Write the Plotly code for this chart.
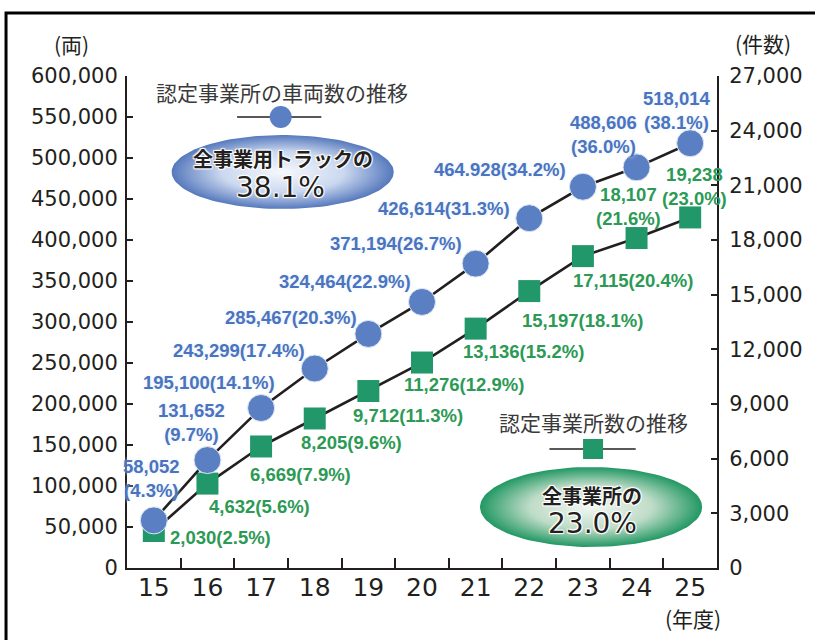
import numpy as np
import plotly.graph_objects as go

# ---------------- data ----------------
years = ["15", "16", "17", "18", "19", "20", "21", "22", "23", "24", "25"]
vehicles = [58052, 131652, 195100, 243299, 285467, 324464, 371194, 426614, 464928, 488606, 518014]
offices = [2030, 4632, 6669, 8205, 9712, 11276, 13136, 15197, 17115, 18107, 19238]
vehicle_labels = ["58,052<br>(4.3%)", "131,652<br>(9.7%)", "195,100(14.1%)", "243,299(17.4%)",
                  "285,467(20.3%)", "324,464(22.9%)", "371,194(26.7%)", "426,614(31.3%)",
                  "464.928(34.2%)", "488,606<br>(36.0%)", "518,014<br>(38.1%)"]
office_labels = ["2,030(2.5%)", "4,632(5.6%)", "6,669(7.9%)", "8,205(9.6%)", "9,712(11.3%)",
                 "11,276(12.9%)", "13,136(15.2%)", "15,197(18.1%)", "17,115(20.4%)",
                 "18,107<br>(21.6%)", "19,238<br>(23.0%)"]
left_max, left_step = 600000, 50000
right_max, right_step = 27000, 3000

# ---------------- style ----------------
INK = "#231f20"
BLUE = "#5a7fc3"
BLUE_TXT = "#4a74bf"
GREEN = "#22986a"
GREEN_TXT = "#2c9a55"
NUM_FONT = "DejaVu Sans"
LBL_FONT = "Liberation Sans"
JP_FONT = "Noto Sans CJK JP"

# label pixel offsets from their point (dx right, dy up)
veh_off = [(-2, 42), (-16, 38), (-52, 26), (-76, 18), (-77, 16), (-77, 20),
           (-80, 20), (-85, 10), (-83, 17), (-33, 33), (-13, 33)]
off_off = [(67, -6), (52, -23), (39, -28), (37, -24), (40, -24), (42, -22),
           (48, -23), (53, -29), (50, -24), (-8, 32), (4, 31)]

L, R, T, B = 127, 93, 76, 72
W, H = 815, 640

fig = go.Figure()

# decoration overlay axes in pixel units
def ellipse(cx, cy, a, b, scale):
    t = np.linspace(0, 2 * np.pi, 120)
    fig.add_trace(go.Scatter(
        x=cx + a * np.cos(t), y=cy + b * np.sin(t), mode="lines", fill="toself",
        line=dict(width=0), fillgradient=dict(type="radial", colorscale=scale),
        xaxis="x3", yaxis="y3", hoverinfo="skip"))

ellipse(284, 172, 112, 37, [[0, "#f6f8fc"], [0.55, "#cbd8ef"], [1, "#5679bd"]])
ellipse(595, 507, 112, 40, [[0, "#f2f7f1"], [0.55, "#bfdcc8"], [1, "#229863"]])

# legend symbols
fig.add_trace(go.Scatter(x=[238, 323], y=[117, 117], mode="lines", line=dict(color=INK, width=1.5),
                         xaxis="x3", yaxis="y3", hoverinfo="skip"))
fig.add_trace(go.Scatter(x=[282], y=[117], mode="markers",
                         marker=dict(symbol="circle", size=22, color=BLUE, line=dict(width=0)),
                         xaxis="x3", yaxis="y3", hoverinfo="skip"))
fig.add_trace(go.Scatter(x=[553, 640], y=[449, 449], mode="lines", line=dict(color=INK, width=1.5),
                         xaxis="x3", yaxis="y3", hoverinfo="skip"))
fig.add_trace(go.Scatter(x=[597], y=[449], mode="markers",
                         marker=dict(symbol="square", size=20, color=GREEN, line=dict(width=0)),
                         xaxis="x3", yaxis="y3", hoverinfo="skip"))

# offices (right axis, primary y)
fig.add_trace(go.Scatter(x=years, y=offices, mode="lines+markers",
                         line=dict(color=INK, width=2.6),
                         marker=dict(symbol="square", size=22, color=GREEN, line=dict(width=0)),
                         yaxis="y", xaxis="x"))
# vehicles (left axis, y2 overlay so it sits on top)
fig.add_trace(go.Scatter(x=years, y=vehicles, mode="lines+markers",
                         line=dict(color=INK, width=2.6),
                         marker=dict(symbol="circle", size=27, color=BLUE, line=dict(width=1, color="#dfe8f5")),
                         yaxis="y2", xaxis="x"))

ann = []
for i, v in enumerate(vehicles):
    dx, dy = veh_off[i]
    ann.append(dict(x=i, y=v, xref="x", yref="y2", text=vehicle_labels[i], showarrow=False,
                    xshift=dx, yshift=dy, align="center", xanchor="center", yanchor="middle",
                    font=dict(family=LBL_FONT, size=18.5, color=BLUE_TXT, weight="bold",
                              shadow="0 0 4px #e3edf9")))
for i, v in enumerate(offices):
    dx, dy = off_off[i]
    ann.append(dict(x=i, y=v, xref="x", yref="y", text=office_labels[i], showarrow=False,
                    xshift=dx, yshift=dy, align="center", xanchor="center", yanchor="middle",
                    font=dict(family=LBL_FONT, size=18.5, color=GREEN_TXT, weight="bold")))

halo = "1px 1px 1px #fff, -1px -1px 1px #fff, 1px -1px 1px #fff, -1px 1px 1px #fff"
def txt(x, y, s, size, family=JP_FONT, color=INK, weight="normal", shadow="none"):
    ann.append(dict(x=x, y=y, xref="x3", yref="y3", text=s, showarrow=False,
                    xanchor="center", yanchor="middle",
                    font=dict(family=family, size=size, color=color, weight=weight, shadow=shadow)))

txt(283, 92, "認定事業所の車両数の推移", 21, color="#3a3a3a")
txt(284, 158, "全事業用トラックの", 20, weight="bold", shadow=halo)
txt(282, 187, "38.1%", 28, family=NUM_FONT, shadow=halo)
txt(597, 422, "認定事業所数の推移", 21, color="#3a3a3a")
txt(596, 495, "全事業所の", 20, weight="bold", shadow=halo)
txt(596, 523, "23.0%", 28, family=NUM_FONT, shadow=halo)

def ptxt(px, py, s, size):
    ann.append(dict(x=(px - L) / (W - L - R), y=(H - B - py) / (H - T - B), xref="paper", yref="paper",
                    xanchor="center", yanchor="middle",
                    text=s, showarrow=False, font=dict(family=JP_FONT, size=size, color=INK)))

ptxt(71, 44, "(両)", 21)
ptxt(768, 43, "(件数)", 21)
ptxt(698, 618, "(年度)", 21)

axis_common = dict(showline=True, linecolor=INK, linewidth=2, ticks="inside", ticklen=6, tickwidth=1.5,
                   tickcolor=INK, showgrid=False, zeroline=False, tickformat=",d",
                   tickfont=dict(family=NUM_FONT, size=21, color=INK))

pw, ph = W - L - R, H - T - B
fig.update_layout(
    width=W, height=H, margin=dict(l=L, r=R, t=T, b=B, pad=0),
    paper_bgcolor="white", plot_bgcolor="white", showlegend=False,
    xaxis=dict(type="category", categoryorder="array", categoryarray=years, range=[-0.5, 10.5],
               showline=True, linecolor=INK, linewidth=2, ticks="inside", ticklen=10, tickwidth=1.5,
               tickcolor=INK, tickson="boundaries", showgrid=False, zeroline=False,
               tickfont=dict(family=NUM_FONT, size=25, color=INK), ticklabelstandoff=-4),
    yaxis=dict(side="right", range=[0, right_max], dtick=right_step, ticklabelstandoff=6, **axis_common),
    yaxis2=dict(side="left", overlaying="y", range=[0, left_max], dtick=left_step, ticklabelstandoff=3,
                **axis_common),
    xaxis3=dict(overlaying="x", range=[L, W - R], visible=False, fixedrange=True),
    yaxis3=dict(overlaying="y", range=[H - B, T], visible=False, fixedrange=True),
    annotations=ann,
    shapes=[dict(type="rect", xref="paper", yref="paper",
                 x0=(5 - L) / pw, x1=(840 - L) / pw, y0=(H - B - 670) / ph, y1=(H - B - 13) / ph,
                 line=dict(color="#000", width=3), fillcolor="rgba(0,0,0,0)", layer="above")],
)

fig.write_html("out.html")
